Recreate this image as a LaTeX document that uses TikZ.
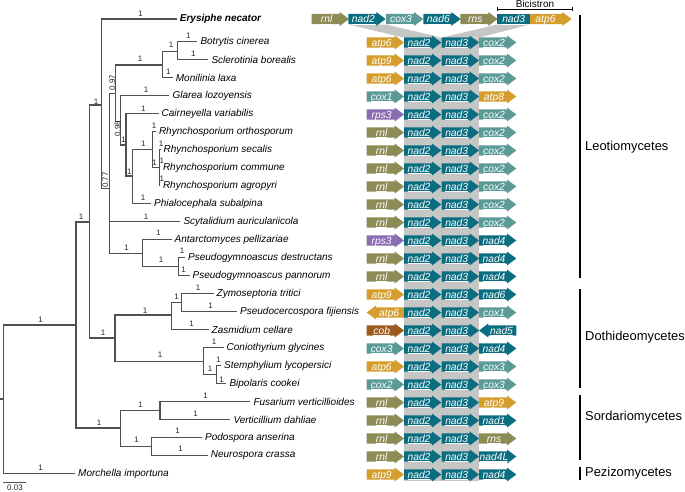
\documentclass[tikz,border=0pt]{standalone}
\usepackage{fontspec}
\setmainfont{Liberation Sans}
\usetikzlibrary{calc}
\definecolor{cnad}{HTML}{0B6D80}
\definecolor{ccox}{HTML}{5B9B97}
\definecolor{catp}{HTML}{D59E2C}
\definecolor{crn}{HTML}{8D8C57}
\definecolor{crps}{HTML}{8B6BB1}
\definecolor{ccob}{HTML}{9B5A1F}
\definecolor{cband}{HTML}{C6C6C6}
\definecolor{ctree}{HTML}{505050}
\newcommand\genr[5]{%
  \fill[#3] (#1,#2-5.2) -- (#1+28,#2-5.2) -- (#1+28,#2-7) -- (#1+37.3,#2) -- (#1+28,#2+7) -- (#1+28,#2+5.2) -- (#1,#2+5.2) -- cycle;
  \node[gtxt] (#5) at (#1+15,#2+3.6) {\underline{#4}};}
\newcommand\genl[5]{%
  \fill[#3] (#1+37.3,#2-5.2) -- (#1+9.3,#2-5.2) -- (#1+9.3,#2-7) -- (#1,#2) -- (#1+9.3,#2+7) -- (#1+9.3,#2+5.2) -- (#1+37.3,#2+5.2) -- cycle;
  \node[gtxt] (#5) at (#1+22.5,#2+3.6) {\underline{#4}};}
\begin{document}
\begin{tikzpicture}[x=1pt,y=-1pt,
  br/.style={draw=ctree,line width=1.05pt},
  leaf/.style={anchor=west,inner xsep=3pt,inner ysep=0pt,font=\fontsize{10}{12}\selectfont\itshape},
  bs/.style={inner sep=0pt,text=black!85,font=\fontsize{8}{9}\selectfont},
  gtxt/.style={anchor=base,inner sep=0pt,text=white,font=\fontsize{10.3}{11}\selectfont\itshape},
  cls/.style={anchor=west,inner sep=0pt,font=\fontsize{12.9}{14}\selectfont},
  bar/.style={draw=black,line width=1.8pt}]
\useasboundingbox (0,0) rectangle (685,491);

% ---------- tree nodes ----------
\coordinate (rt) at (0,399);
\coordinate (root) at (3.3,399);
\coordinate (P) at (76,325);
\coordinate (Q) at (89.7,222);
\coordinate (L0) at (101.3,105);
\coordinate (L1) at (109.2,188.3);
\coordinate (L2) at (115.7,93.3);
\coordinate (S0) at (162.3,65);
\coordinate (S1) at (177.3,51.7);
\coordinate (L3) at (120.7,121.7);
\coordinate (L4) at (126,145);
\coordinate (L5) at (132.7,176);
\coordinate (R0) at (152.7,149.5);
\coordinate (R1) at (159.3,167.5);
\coordinate (A0) at (142.7,253.3);
\coordinate (PG) at (178.3,266.5);
\coordinate (D0) at (115,338);
\coordinate (C0) at (171.7,315);
\coordinate (ZP) at (181.7,302.5);
\coordinate (Pl) at (203.3,361.7);
\coordinate (SB) at (216.7,374.5);
\coordinate (So) at (120.5,428);
\coordinate (Hy) at (160,410.5);
\coordinate (Sd) at (151.7,446.5);

% ---------- leaves ----------
\node[leaf] (erys) at (176.7,19) {\textbf{Erysiphe necator}};
\node[leaf] (botr) at (197.3,41.5) {Botrytis cinerea};
\node[leaf] (scle) at (208.3,59.5) {Sclerotinia borealis};
\node[leaf] (moni) at (172.7,77.5) {Monilinia laxa};
\node[leaf] (glar) at (169.3,95.5) {Glarea lozoyensis};
\node[leaf] (cair) at (158.5,113.5) {Cairneyella variabilis};
\node[leaf] (rort) at (155.8,131.5) {Rhynchosporium orthosporum};
\node[leaf] (rsec) at (160.5,149.5) {Rhynchosporium secalis};
\node[leaf] (rcom) at (159.8,167.5) {Rhynchosporium commune};
\node[leaf] (ragr) at (159.8,185.5) {Rhynchosporium agropyri};
\node[leaf] (phia) at (151,203.5) {Phialocephala subalpina};
\node[leaf] (scyt) at (180.3,221.5) {Scytalidium auriculariicola};
\node[leaf] (anta) at (171.5,239.5) {Antarctomyces pellizariae};
\node[leaf] (pdes) at (185,257.5) {Pseudogymnoascus destructans};
\node[leaf] (ppan) at (189.5,275.5) {Pseudogymnoascus pannorum};
\node[leaf] (zymo) at (213.5,293.5) {Zymoseptoria tritici};
\node[leaf] (psec) at (237,311.5) {Pseudocercospora fijiensis};
\node[leaf] (zasm) at (208.5,329.5) {Zasmidium cellare};
\node[leaf] (coni) at (223.5,347.5) {Coniothyrium glycines};
\node[leaf] (stem) at (221,365.5) {Stemphylium lycopersici};
\node[leaf] (bipo) at (226.3,383.5) {Bipolaris cookei};
\node[leaf] (fusa) at (250.3,401.5) {Fusarium verticillioides};
\node[leaf] (vert) at (230.3,419.5) {Verticillium dahliae};
\node[leaf] (podo) at (202,437.5) {Podospora anserina};
\node[leaf] (neur) at (207.7,455.5) {Neurospora crassa};
\node[leaf] (morc) at (75,473.5) {Morchella importuna};

% ---------- branches ----------
\draw[br] (rt) -- (root);
\draw[br] (root) |- (P);
\draw[br] (root) |- (morc.west);
\draw[br] (P) |- (Q);
\draw[br] (P) |- (So);
\draw[br] (Q) |- (L0);
\draw[br] (Q) |- (D0);
\draw[br] (L0) |- (erys.west);
\draw[br] (L0) |- (L1);
\draw[br] (L1) |- (L2);
\draw[br] (L1) |- (scyt.west);
\draw[br] (L1) |- (A0);
\draw[br] (L2) |- (S0);
\draw[br] (L2) |- (L3);
\draw[br] (S0) |- (S1);
\draw[br] (S0) |- (moni.west);
\draw[br] (S1) |- (botr.west);
\draw[br] (S1) |- (scle.west);
\draw[br] (L3) |- (glar.west);
\draw[br] (L3) |- (L4);
\draw[br] (L4) |- (cair.west);
\draw[br] (L4) |- (L5);
\draw[br] (L5) |- (R0);
\draw[br] (L5) |- (phia.west);
\draw[br] (R0) |- (rort.west);
\draw[br] (R0) |- (R1);
\draw[br] (R1) |- (rsec.west);
\draw[br] (R1) |- (rcom.west);
\draw[br] (R1) |- (ragr.west);
\draw[br] (A0) |- (anta.west);
\draw[br] (A0) |- (PG);
\draw[br] (PG) |- (pdes.west);
\draw[br] (PG) |- (ppan.west);
\draw[br] (D0) |- (C0);
\draw[br] (D0) |- (Pl);
\draw[br] (C0) |- (ZP);
\draw[br] (C0) |- (zasm.west);
\draw[br] (ZP) |- (zymo.west);
\draw[br] (ZP) |- (psec.west);
\draw[br] (Pl) |- (coni.west);
\draw[br] (Pl) |- (SB);
\draw[br] (SB) |- (stem.west);
\draw[br] (SB) |- (bipo.west);
\draw[br] (So) |- (Hy);
\draw[br] (So) |- (Sd);
\draw[br] (Hy) |- (fusa.west);
\draw[br] (Hy) |- (vert.west);
\draw[br] (Sd) |- (podo.west);
\draw[br] (Sd) |- (neur.west);

% ---------- support values ----------
\foreach \x/\y [count=\i] in {140.7/14, 96/101.7, 140/58.7, 171/45, 188.3/36, 193.3/54, 168.3/71.7,
  146/90, 143.3/108.3, 123.6/140, 143.3/144, 154/126, 161/143.5, 154.5/162.5, 161.8/160.5, 161.8/179,
  129.3/171.7, 143/198, 146/216.7, 126.7/247.3, 158.3/233, 161/260, 182/251, 183.7/269.5,
  103/333, 145/310.7, 176.7/296.7, 198/288, 210.7/306, 191.7/324, 160/355, 214/342, 210/368.3,
  218.3/359.3, 221.7/379.3, 81/217, 99/423, 140.7/405, 205.7/396, 195.7/414, 136.7/440,
  177.7/431, 180.7/449, 40.7/320, 40.7/467.5}
  \node[bs] (bs\i) at (\x,\y) {1};
\node[bs,rotate=90] (b097) at (112.4,82.5) {0.97};
\node[bs,rotate=90] (b098) at (117.6,128.7) {0.98};
\node[bs,rotate=90] (b077) at (105.3,180) {0.77};

% ---------- scale bar ----------
\coordinate (sb1) at (3.3,482);
\coordinate (sb2) at (26,482);
\draw[draw=ctree,line width=0.8pt] (sb1) -- (sb2);
\node[bs] (sbt) at (15,487.3) {0.03};

% ---------- gray conservation band ----------
\fill[cband] (348.3,24.5) -- (386,24.5) -- (441.7,37.6) -- (404,37.6) -- cycle;
\fill[cband] (497.3,24.5) -- (530,24.5) -- (479,37.6) -- (441.7,37.6) -- cycle;
\fill[cband] (404,37.6) rectangle (479,480.5);

% ---------- top gene order (Erysiphe) ----------
\genr{311.7}{19}{crn}{rnl}{t1}
\genr{348.3}{19}{cnad}{nad2}{t2}
\genr{386}{19}{ccox}{cox3}{t3}
\genr{423.3}{19}{cnad}{nad6}{t4}
\genr{460.3}{19}{crn}{rns}{t5}
\fill[cnad] (497.3,13.8) rectangle (530,24.2);
\node[gtxt] (t6) at (513.7,22.6) {\underline{nad3}};
\fill[catp] (530,13.8) -- (562.3,13.8) -- (562.3,12) -- (571.7,19) -- (562.3,26) -- (562.3,24.2) -- (530,24.2) -- cycle;
\node[gtxt] (t7) at (545.5,22.6) {\underline{atp6}};

% Bicistron bracket
\coordinate (bc1) at (497.3,9);
\coordinate (bc2) at (572.3,9);
\draw[line width=0.7pt] ($(bc1)+(0,-2)$) -- ($(bc1)+(0,2)$);
\draw[line width=0.7pt] ($(bc2)+(0,-2)$) -- ($(bc2)+(0,2)$);
\draw[line width=0.7pt] (bc1) -- (bc2);
\node[inner sep=0pt,anchor=base,font=\fontsize{10}{11}\selectfont] (bic) at (535,7.6) {Bicistron};

% ---------- gene rows ----------
\foreach \y/\ca/\ta/\da/\cb/\tb/\db [count=\i] in {
  42.5/catp/atp6/r/ccox/cox2/r,
  60.5/catp/atp9/r/ccox/cox2/r,
  78.5/catp/atp6/r/ccox/cox2/r,
  96.5/ccox/cox1/r/catp/atp8/r,
  114.5/crps/rps3/r/ccox/cox2/r,
  132.5/crn/rnl/r/ccox/cox2/r,
  150.5/crn/rnl/r/ccox/cox2/r,
  168.5/crn/rnl/r/ccox/cox2/r,
  186.5/crn/rnl/r/ccox/cox2/r,
  204.5/crn/rnl/r/ccox/cox2/r,
  222.5/crn/rnl/r/ccox/cox2/r,
  240.5/crps/rps3/r/cnad/nad4/r,
  258.5/crn/rnl/r/cnad/nad4/r,
  276.5/crn/rnl/r/cnad/nad4/r,
  294.5/catp/atp9/r/cnad/nad6/r,
  312.5/catp/atp6/l/ccox/cox1/r,
  330.5/ccob/cob/r/cnad/nad5/l,
  348.5/ccox/cox3/r/cnad/nad4/r,
  366.5/catp/atp6/r/ccox/cox3/r,
  384.5/ccox/cox2/r/ccox/cox3/r,
  402.5/crn/rnl/r/catp/atp9/r,
  420.5/crn/rnl/r/cnad/nad1/r,
  438.5/crn/rnl/r/crn/rns/r,
  456.5/crn/rnl/r/cnad/nad4L/r,
  474.5/catp/atp9/r/cnad/nad4/r}{
  \csname gen\da\endcsname{366.7}{\y}{\ca}{\ta}{ga\i}
  \genr{404}{\y}{cnad}{nad2}{gb\i}
  \genr{441.7}{\y}{cnad}{nad3}{gc\i}
  \csname gen\db\endcsname{479}{\y}{\cb}{\tb}{gd\i}
}

% ---------- classes ----------
\coordinate (k1a) at (580,15);    \coordinate (k1b) at (580,278.3);
\coordinate (k2a) at (580,289.3); \coordinate (k2b) at (580,388.3);
\coordinate (k3a) at (580,395);   \coordinate (k3b) at (580,460);
\coordinate (k4a) at (580,466.7); \coordinate (k4b) at (580,480);
\draw[bar] (k1a) -- (k1b);
\draw[bar] (k2a) -- (k2b);
\draw[bar] (k3a) -- (k3b);
\draw[bar] (k4a) -- (k4b);
\node[cls] (leo) at (585,146.7) {Leotiomycetes};
\node[cls] (dot) at (585,336.7) {Dothideomycetes};
\node[cls] (sor) at (585,416.7) {Sordariomycetes};
\node[cls] (pez) at (585,473.3) {Pezizomycetes};
\end{tikzpicture}
\end{document}
